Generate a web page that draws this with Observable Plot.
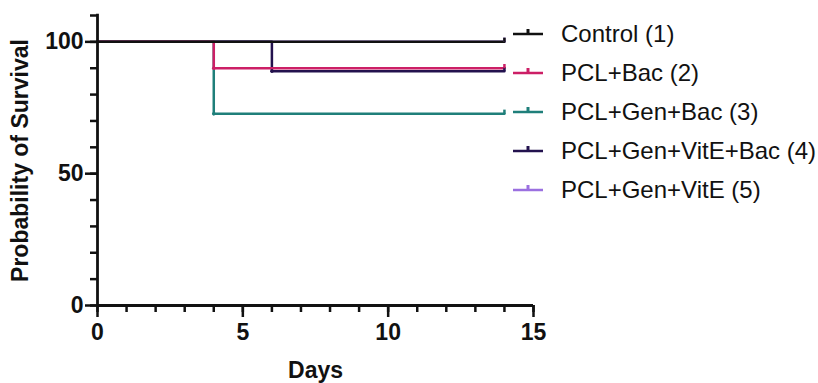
<!DOCTYPE html>
<html>
<head>
<meta charset="utf-8">
<script src="https://cdn.jsdelivr.net/npm/d3@7"></script>
<script src="https://cdn.jsdelivr.net/npm/@observablehq/plot@0.6"></script>
<style>
  html, body { margin: 0; padding: 0; background: #fff; }
  svg text { font-family: "Liberation Sans", Arial, sans-serif; }
  g[aria-label="x-axis tick label"], g[aria-label="y-axis tick label"] { font-size: 23px !important; font-weight: bold; }
  g[aria-label="x-axis label"], g[aria-label="y-axis label"] { font-size: 23px !important; font-weight: bold; }
  g.legend text { font-size: 24px; text-anchor: start; }
</style>
</head>
<body>
<div id="chart"></div>
<script>
// ---- data ----
const groups = ["Control (1)", "PCL+Bac (2)", "PCL+Gen+Bac (3)", "PCL+Gen+VitE+Bac (4)", "PCL+Gen+VitE (5)"];
const colors = ["#111111", "#cc1f66", "#1f7f7a", "#23124e", "#9b70e0"];
// step points per group: days and survival %
const controlDays = [0, 14];          const controlSurv = [100, 100];
const bacDays = [0, 4, 14];           const bacSurv = [100, 90, 90];
const genBacDays = [0, 4, 14];        const genBacSurv = [100, 72.7, 72.7];
const genVitBacDays = [0, 6, 14];     const genVitBacSurv = [100, 88.9, 88.9];
const genVitDays = [0, 14];           const genVitSurv = [100, 100];
const xTicks = [0, 5, 10, 15];
const yTicks = [0, 50, 100];

const seriesDays = [controlDays, bacDays, genBacDays, genVitBacDays, genVitDays];
const seriesSurv = [controlSurv, bacSurv, genBacSurv, genVitBacSurv, genVitSurv];

const rows = [];
groups.forEach((g, i) => seriesDays[i].forEach((d, j) => rows.push({group: g, order: i, day: d, surv: seriesSurv[i][j]})));
// drawing order: last group first so Control is on top
const drawGroups = groups.slice().reverse();
const ends = groups.map((g, i) => ({group: g, day: seriesDays[i][seriesDays[i].length - 1], surv: seriesSurv[i][seriesSurv[i].length - 1]}));
const drops = rows.filter(r => r.day > 0 && r.day < 14);

const colorScale = {domain: groups, range: colors};

const marks = [];
drawGroups.forEach(g => {
  marks.push(Plot.line(rows.filter(r => r.group === g), {x: "day", y: "surv", stroke: "group", strokeWidth: 2.5, curve: "step-after"}));
});
marks.push(Plot.dot(drops, {x: "day", y: "surv", fill: "group", r: 1.8}));
marks.push(Plot.link(ends.slice().reverse(), {x1: "day", x2: "day", y1: "surv", y2: d => d.surv + 1.6, stroke: "group", strokeWidth: 2.5}));
// axes
marks.push(Plot.axisX(d3.range(0, 16), {tickSize: 7, strokeWidth: 2.5, text: null, label: null}));
marks.push(Plot.axisX(xTicks, {tickSize: 12, strokeWidth: 2.5, tickPadding: 6, fill: "#111",
  label: "Days", labelAnchor: "center", labelArrow: "none", labelOffset: 72}));
marks.push(Plot.axisY(d3.range(0, 111, 10), {tickSize: 7, strokeWidth: 2.5, text: null, label: null}));
marks.push(Plot.axisY(yTicks, {tickSize: 12, strokeWidth: 2.5, tickPadding: 2, fill: "#111",
  label: "Probability of Survival", labelAnchor: "center", labelArrow: "none", labelOffset: 86}));
marks.push(Plot.ruleX([0], {y1: 0, y2: 110.5, strokeWidth: 2.8, stroke: "#111"}));
marks.push(Plot.ruleY([0], {x1: 0, x2: 15, strokeWidth: 2.8, stroke: "#111"}));

const chart = Plot.plot({
  width: 818, height: 383,
  marginLeft: 97, marginRight: 285, marginTop: 15, marginBottom: 78,
  style: {fontFamily: "Liberation Sans, Arial, sans-serif", color: "#111", background: "#fff"},
  x: {domain: [0, 15]},
  y: {domain: [0, 110]},
  color: colorScale,
  marks
});

// legend
const svg = d3.select(chart);
const lg = svg.append("g").attr("class", "legend");
groups.forEach((g, i) => {
  const cy = 34 + i * 39;
  const row = lg.append("g").attr("transform", `translate(513,${cy})`);
  row.append("line").attr("x1", 0).attr("x2", 30).attr("y1", 0).attr("y2", 0).attr("stroke", colors[i]).attr("stroke-width", 2.5);
  row.append("line").attr("x1", 15).attr("x2", 15).attr("y1", 0).attr("y2", -5).attr("stroke", colors[i]).attr("stroke-width", 3);
  row.append("text").attr("x", 48).attr("y", 0).attr("dy", "0.35em").attr("text-anchor", "start").attr("fill", "#111").text(g);
});
document.getElementById("chart").appendChild(chart);
</script>
</body>
</html>
